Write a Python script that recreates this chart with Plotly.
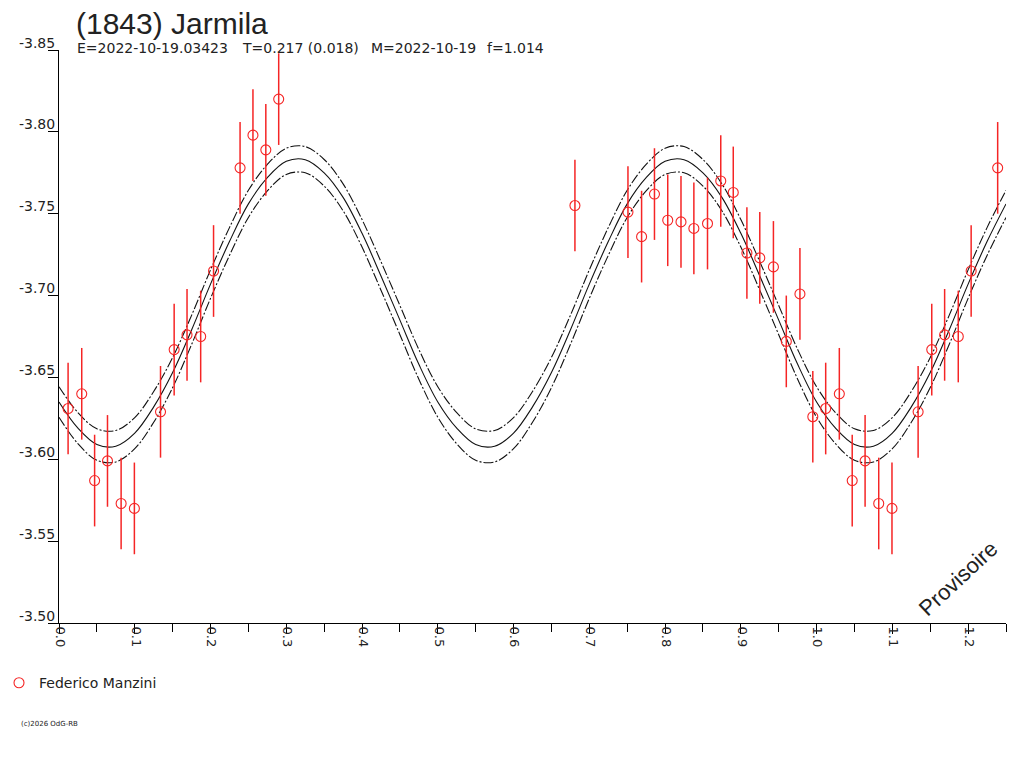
import plotly.graph_objects as go

# --- observations (phase, reduced magnitude) ---
obs_phase = [0.012, 0.030, 0.047, 0.064, 0.082, 0.0995, 0.134, 0.152, 0.169, 0.187,
             0.204, 0.239, 0.256, 0.273, 0.290,
             0.681, 0.751, 0.769, 0.786, 0.8035, 0.821, 0.838, 0.856, 0.8735, 0.890,
             0.908, 0.925, 0.943, 0.960, 0.978, 0.995]
obs_mag = [-3.631, -3.640, -3.587, -3.599, -3.573, -3.570, -3.629, -3.667, -3.676, -3.675,
           -3.715, -3.778, -3.798, -3.789, -3.820,
           -3.755, -3.751, -3.736, -3.762, -3.746, -3.745, -3.741, -3.744, -3.770, -3.763,
           -3.726, -3.723, -3.7175, -3.672, -3.701, -3.626]
obs_err = 0.028

# --- fitted light curve, read every 0.025 in phase ---
fit_phase = [round(i * 0.025, 3) for i in range(51)]
fit_mag = [-3.635, -3.619, -3.609, -3.608, -3.616, -3.632, -3.653, -3.679, -3.707, -3.733,
           -3.756, -3.772, -3.782, -3.783, -3.775, -3.760, -3.738, -3.712, -3.685, -3.658,
           -3.635, -3.619, -3.609, -3.608, -3.616, -3.632, -3.653, -3.679, -3.707, -3.733,
           -3.756, -3.772, -3.782, -3.783, -3.775, -3.760, -3.738, -3.712, -3.685, -3.658,
           -3.635, -3.619, -3.609, -3.608, -3.616, -3.632, -3.653, -3.679, -3.707, -3.733,
           -3.756]
fit_err = [0.0093, 0.0095, 0.0096, 0.0096, 0.0095, 0.0094, 0.0092, 0.0089, 0.0087, 0.0085,
           0.0083, 0.0081, 0.0080, 0.0080, 0.0081, 0.0082, 0.0084, 0.0087, 0.0089, 0.0091,
           0.0093, 0.0095, 0.0096, 0.0096, 0.0095, 0.0094, 0.0092, 0.0089, 0.0087, 0.0085,
           0.0083, 0.0081, 0.0080, 0.0080, 0.0081, 0.0082, 0.0084, 0.0087, 0.0089, 0.0091,
           0.0093, 0.0095, 0.0096, 0.0096, 0.0095, 0.0094, 0.0092, 0.0089, 0.0087, 0.0085,
           0.0083]

y_ticks = [-3.85, -3.80, -3.75, -3.70, -3.65, -3.60, -3.55, -3.50]
y_labels = ["-3.85", "-3.80", "-3.75", "-3.70", "-3.65", "-3.60", "-3.55", "-3.50"]

observer = "Federico Manzini"
title = "(1843) Jarmila"
subtitle = ["E=2022-10-19.03423", "T=0.217 (0.018)", "M=2022-10-19", "f=1.014"]

PH_MAX = 1.25
RED = "#f52525"
INK = "#222222"
SMALL = "DejaVu Sans, Arial, sans-serif"
BIG = "Liberation Sans, Arial, sans-serif"
PW = 947  # plot width in px, used to place paper annotations

# phases < 0.25 are repeated one cycle later
px_, py_ = list(obs_phase), list(obs_mag)
for p, m in zip(obs_phase, obs_mag):
    if p + 1 <= PH_MAX:
        px_.append(p + 1)
        py_.append(m)

fig = go.Figure()

# envelope + fit
upper = [m - e for m, e in zip(fit_mag, fit_err)]
lower = [m + e for m, e in zip(fit_mag, fit_err)]
for ys, dash in [(upper, "10px,2px,2px,2px"), (lower, "10px,2px,2px,2px"), (fit_mag, "solid")]:
    fig.add_trace(go.Scatter(
        x=fit_phase, y=ys, mode="lines", line_shape="spline",
        line=dict(color="#111111", width=1.1, dash=dash),
        showlegend=False, hoverinfo="skip"))

fig.add_trace(go.Scatter(
    x=px_, y=py_, mode="markers", name=observer,
    marker=dict(symbol="circle-open", size=10, color=RED, line=dict(width=1.1, color=RED)),
    error_y=dict(type="constant", value=obs_err, color=RED, thickness=1.5, width=0),
))

# page body has an 8px margin, so the figure is a bit smaller than the window
fig.update_layout(
    width=1016, height=760,
    margin=dict(l=51, r=18, t=42, b=145, autoexpand=False),
    plot_bgcolor="white", paper_bgcolor="white",
    font=dict(family=SMALL, color=INK, size=13),
    showlegend=True,
    legend=dict(x=-60 / PW, y=-0.105, xanchor="left", yanchor="middle",
                font=dict(family=SMALL, size=14, color=INK), bgcolor="rgba(0,0,0,0)"),
    xaxis=dict(
        range=[0, PH_MAX], dtick=0.1, tick0=0, tickformat=".1f", tickangle=90,
        ticks="outside", ticklen=10, tickcolor="black", showline=True, linecolor="black",
        showgrid=False, zeroline=False, ticklabelposition="outside right", automargin=False,
        tickfont=dict(family=SMALL, size=13, color=INK),
        minor=dict(dtick=0.05, ticks="outside", ticklen=8, tickcolor="black"),
    ),
    yaxis=dict(
        range=[-3.50, -3.85], tickvals=y_ticks, ticktext=y_labels,
        ticks="outside", ticklen=10, tickcolor="black", showline=True, linecolor="black",
        showgrid=False, zeroline=False, ticklabelposition="outside top", automargin=False,
        ticklabelshift=-3,
        tickfont=dict(family=SMALL, size=14, color=INK),
    ),
)

fig.add_annotation(text=title, xref="paper", yref="paper", x=(74 - 59) / PW, y=1.0471,
                   xanchor="left", yanchor="middle", showarrow=False,
                   font=dict(family=BIG, size=30, color=INK))
for txt, xpix in zip(subtitle, [75, 240, 369, 485]):
    fig.add_annotation(text=txt, xref="paper", yref="paper", x=(xpix - 59) / PW, y=1.004,
                       xanchor="left", yanchor="middle", showarrow=False,
                       font=dict(family=SMALL, size=14, color=INK))

fig.add_annotation(text="Provisoire", xref="paper", yref="paper",
                   x=(958 - 59) / PW, y=(623 - 578) / 573,
                   xanchor="center", yanchor="middle",
                   textangle=-43, showarrow=False, font=dict(family=BIG, size=22, color=INK))
fig.add_annotation(text="(c)2026 OdG-RB", xref="paper", yref="paper", x=(19 - 59) / PW, y=-0.177,
                   xanchor="left", yanchor="middle", showarrow=False,
                   font=dict(family=SMALL, size=7, color=INK))

fig.write_html("out.html")
